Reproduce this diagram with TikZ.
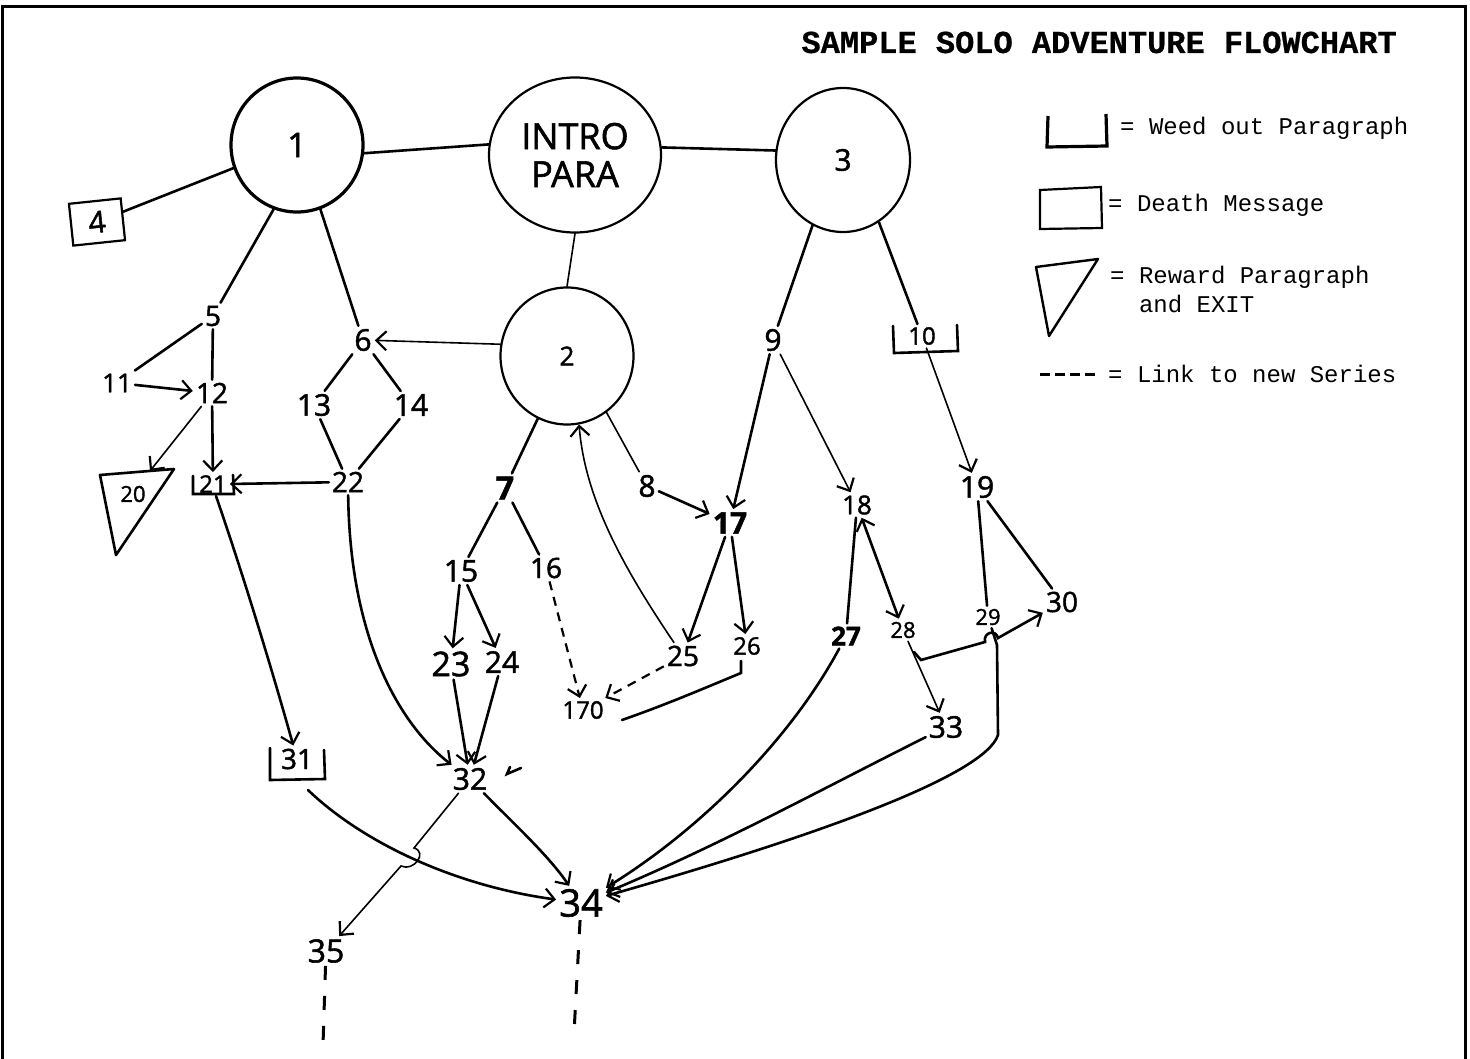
\documentclass[tikz,border=0pt]{standalone}
\usepackage{fontspec}
\setmonofont{Liberation Mono}
\newfontfamily\handfont[FakeBold=1.6]{Open Sans}
\newfontfamily\titlefont[FakeBold=0.6]{Liberation Mono Bold}
\usetikzlibrary{arrows.meta,shapes.geometric,calc}
\begin{document}
\begin{tikzpicture}[x=1pt,y=-1pt,
  fs/.style={font=\handfont\fontsize{#1}{#1}\selectfont, inner sep=3pt},
  ln/.style={line width=2.6pt, line cap=round},
  thn/.style={line width=1.6pt, line cap=round},
  arr/.style={-{Straight Barb[length=10pt,width=19pt,line width=2.2pt]}},
  dsh/.style={line width=2.2pt, dash pattern=on 9pt off 7pt},
  bigdsh/.style={line width=3pt, dash pattern=on 14pt off 16pt},
  circ/.style={ellipse, draw, line width=2.2pt, inner sep=0pt},
  legend/.style={font=\ttfamily\fontsize{24}{29}\selectfont, anchor=west, inner sep=0pt, align=left},
]
\useasboundingbox (0,0) rectangle (1470,1059);
% frame
\draw[line width=3pt] (2,1070) -- (2,7) -- (1465,7) -- (1465,1070);

% title
\node[font=\titlefont\fontsize{32}{34}\selectfont, anchor=base east, inner sep=0pt] (title) at (1397,53) {SAMPLE SOLO ADVENTURE FLOWCHART};

% legend
\draw[line width=3.2pt] (1048,116) -- (1047,147) -- (1107,146) -- (1106,114);
\node[legend] (lg1) at (1120,128) {= Weed out Paragraph};
\draw[line width=2.2pt] (1040,190) -- (1101,187) -- (1102,228) -- (1040,229) -- cycle;
\node[legend] (lg2) at (1108,205) {= Death Message};
\draw[line width=2.4pt, line join=round] (1036,267) -- (1098,259) -- (1049,336) -- cycle;
\node[legend, anchor=north west] (lg3) at (1110,266) {= Reward Paragraph\\\hspace*{28.8pt}and EXIT};
\draw[line width=3pt, dash pattern=on 10pt off 5pt] (1040,374) -- (1098,374);
\node[legend] (lg4) at (1108,374) {= Link to new Series};

% big circles
\node[circ, line width=3.2pt, minimum width=132, minimum height=134, fs=34] (c1) at (297,145) {1};
\node[circ, minimum width=172, minimum height=155, fs=36, align=center] (intro) at (575,155) {INTRO\\[2pt]PARA};
\node[circ, minimum width=134, minimum height=144, fs=30] (c3) at (843,160) {3};
\node[circ, minimum width=133, minimum height=137, fs=26] (c2) at (567,356) {2};

% number nodes
\node[draw, line width=2.2pt, rotate=6, minimum width=52, minimum height=42, fs=30] (b4) at (97,222) {4};
\node[fs=28] (n5) at (213,316) {5};
\node[fs=30] (n6) at (363,340) {6};
\node[fs=26] (n11) at (117,383) {11};
\node[fs=28] (n12) at (212,393) {12};
\node[fs=30] (n13) at (314,405) {13};
\node[fs=30] (n14) at (411,405) {14};
\node[fs=22] (n20) at (133,494) {20};
\node[fs=24] (n21) at (213,484) {21};
\node[fs=28] (n22) at (348,482) {22};
\node[fs=32, font=\handfont\bfseries\fontsize{32}{32}\selectfont] (n7) at (505,488) {7};
\node[fs=30] (n8) at (647,486) {8};
\node[fs=30] (n9) at (773,340) {9};
\node[fs=24] (n10) at (922,336) {10};
\node[fs=30] (n15) at (461,571) {15};
\node[fs=28] (n16) at (546,568) {16};
\node[fs=30, font=\handfont\bfseries\fontsize{30}{30}\selectfont] (n17) at (730,523) {17};
\node[fs=26] (n18) at (857,505) {18};
\node[fs=30] (n19) at (977,487) {19};
\node[fs=34] (n23) at (451,664) {23};
\node[fs=30] (n24) at (502,662) {24};
\node[fs=28] (n25) at (683,656) {25};
\node[fs=24] (n26) at (747,646) {26};
\node[fs=26, font=\handfont\bfseries\fontsize{26}{26}\selectfont] (n27) at (846,636) {27};
\node[fs=22] (n28) at (903,630) {28};
\node[fs=22] (n29) at (988,617) {29};
\node[fs=28] (n30) at (1062,602) {30};
\node[fs=24] (n170) at (583,710) {170};
\node[fs=28] (n31) at (297,759) {31};
\node[fs=30] (n32) at (470,779) {32};
\node[fs=30] (n33) at (946,727) {33};
\node[fs=38] (n34) at (581,903) {34};
\node[fs=32] (n35) at (326,951) {35};

% weed-out brackets
\draw[ln] ($(n21)+(-20,-8)$) -- ($(n21)+(-20,10)$) -- ($(n21)+(21,10)$) -- ($(n21)+(20,-9)$);
\draw[ln] ($(n10)+(-29,-10)$) -- ($(n10)+(-28,17)$) -- ($(n10)+(36,15)$) -- ($(n10)+(35,-11)$);
\draw[ln] ($(n31)+(-27,-11)$) -- ($(n31)+(-27,21)$) -- ($(n31)+(28,20)$) -- ($(n31)+(27,-9)$);
% reward triangle
\draw[ln, line join=round] ($(n20)+(-33,-19)$) -- ($(n20)+(41,-25)$) -- ($(n20)+(-17,61)$) -- cycle;
\coordinate (t20) at ($(n20)+(17,-23)$);

% connectors at the top
\draw[ln] (c1.-7) -- (intro.173);
\draw[ln] (intro.5) -- (c3.172);
\draw[thn] (intro.south) -- (c2.north);
\draw[ln] (c1.200) -- (b4);
\draw[ln] (c1.250) -- (n5);
\draw[ln] (c1.290) -- (n6);
\draw[thn, arr] (c2.170) -- (n6);
\draw[ln] (c3.245) -- (n9);
\draw[ln] (c3.300) -- (n10);

% left branch
\draw[ln] (n5) -- (n11);
\draw[ln] (n5) -- (n12);
\draw[ln, arr] (n11) -- (n12);
\draw[thn, arr] (n12) -- (t20);
\draw[ln, arr] (n12) -- (n21);
\draw[ln] (n6) -- (n13);
\draw[ln] (n6) -- (n14);
\draw[ln] (n13) -- (n22);
\draw[ln] (n14) -- (n22);
\draw[ln, arr] (n22) -- (n21.east);
\draw[ln, arr] ($(n21)+(3,12)$) .. controls (245,580) and (275,680) .. (n31);
\draw[ln, arr] (n22) .. controls (350,640) and (400,725) .. (n32);

% middle branch
\draw[ln] (c2.245) -- (n7);
\draw[ln] (n7) -- (n15);
\draw[ln] (n7) -- (n16);
\draw[ln, arr] (n15) -- (n23);
\draw[ln, arr] (n15) -- (n24);
\draw[ln, arr] (n23) -- (n32);
\draw[ln, arr] (n24) -- (n32);
\draw[dsh, arr] (n16) -- (n170);
\draw[dsh, arr] (n25) -- (n170);
\draw[thn] (c2.305) -- (n8);
\draw[ln, arr] (n8) -- (n17);
\draw[thn, arr] (n25) .. controls (625,570) and (585,500) .. (c2.280);
\draw[ln, arr] (n9) -- (n17);
\draw[ln, arr] (n17) -- (n25);
\draw[ln, arr] (n17) -- (n26);
\coordinate (e26) at (622,720);
\draw[ln] ($(n26.south)+(-6,3)$) -- ++(0,12) .. controls (700,690) and (665,705) .. (e26);

% right branch
\draw[thn, arr] (n9) -- (n18);
\draw[thn, arr] (n10) -- (n19);
\draw[ln] (n18) -- (n27);
\draw[ln, {Straight Barb[length=10pt,width=19pt,line width=2.2pt]}-{Straight Barb[length=10pt,width=19pt,line width=2.2pt]}] (n18) -- (n28);
\draw[ln] (n19) -- (n29);
\draw[ln] (n19) -- (n30);
\draw[ln, arr] ($(n28)+(11,22)$) -- (921,660) -- (985,642) .. controls (983,632) and (996,629) .. (998,638) -- (n30);
\draw[thn, arr] (n28) -- (n33);

% bottom
\draw[ln, arr] (n29) -- (997,645) -- (998,735) .. controls (985,775) and (820,835) .. (n34);
\draw[ln, arr] (n27) .. controls (790,740) and (700,830) .. (n34);
\draw[ln, arr] (n33) .. controls (820,790) and (720,845) .. (n34);
\draw[ln, arr] (n32) .. controls (515,825) and (548,855) .. (n34);
\draw[ln, arr] ($(n31)+(11,31)$) .. controls (360,840) and (450,885) .. (n34);
\coordinate (h1) at (414,848);
\coordinate (h2) at (401,866);
\draw[thn, arr] (n32) -- (h1) .. controls (428,852) and (414,872) .. (h2) -- (n35);
\draw[ln] (521,768) -- (507,774) -- (510,767);
\coordinate (e34) at (574,1033);
\coordinate (e35) at (323,1045);
\draw[bigdsh] (n34) -- (e34);
\draw[bigdsh] (n35) -- (e35);
\end{tikzpicture}
\end{document}
